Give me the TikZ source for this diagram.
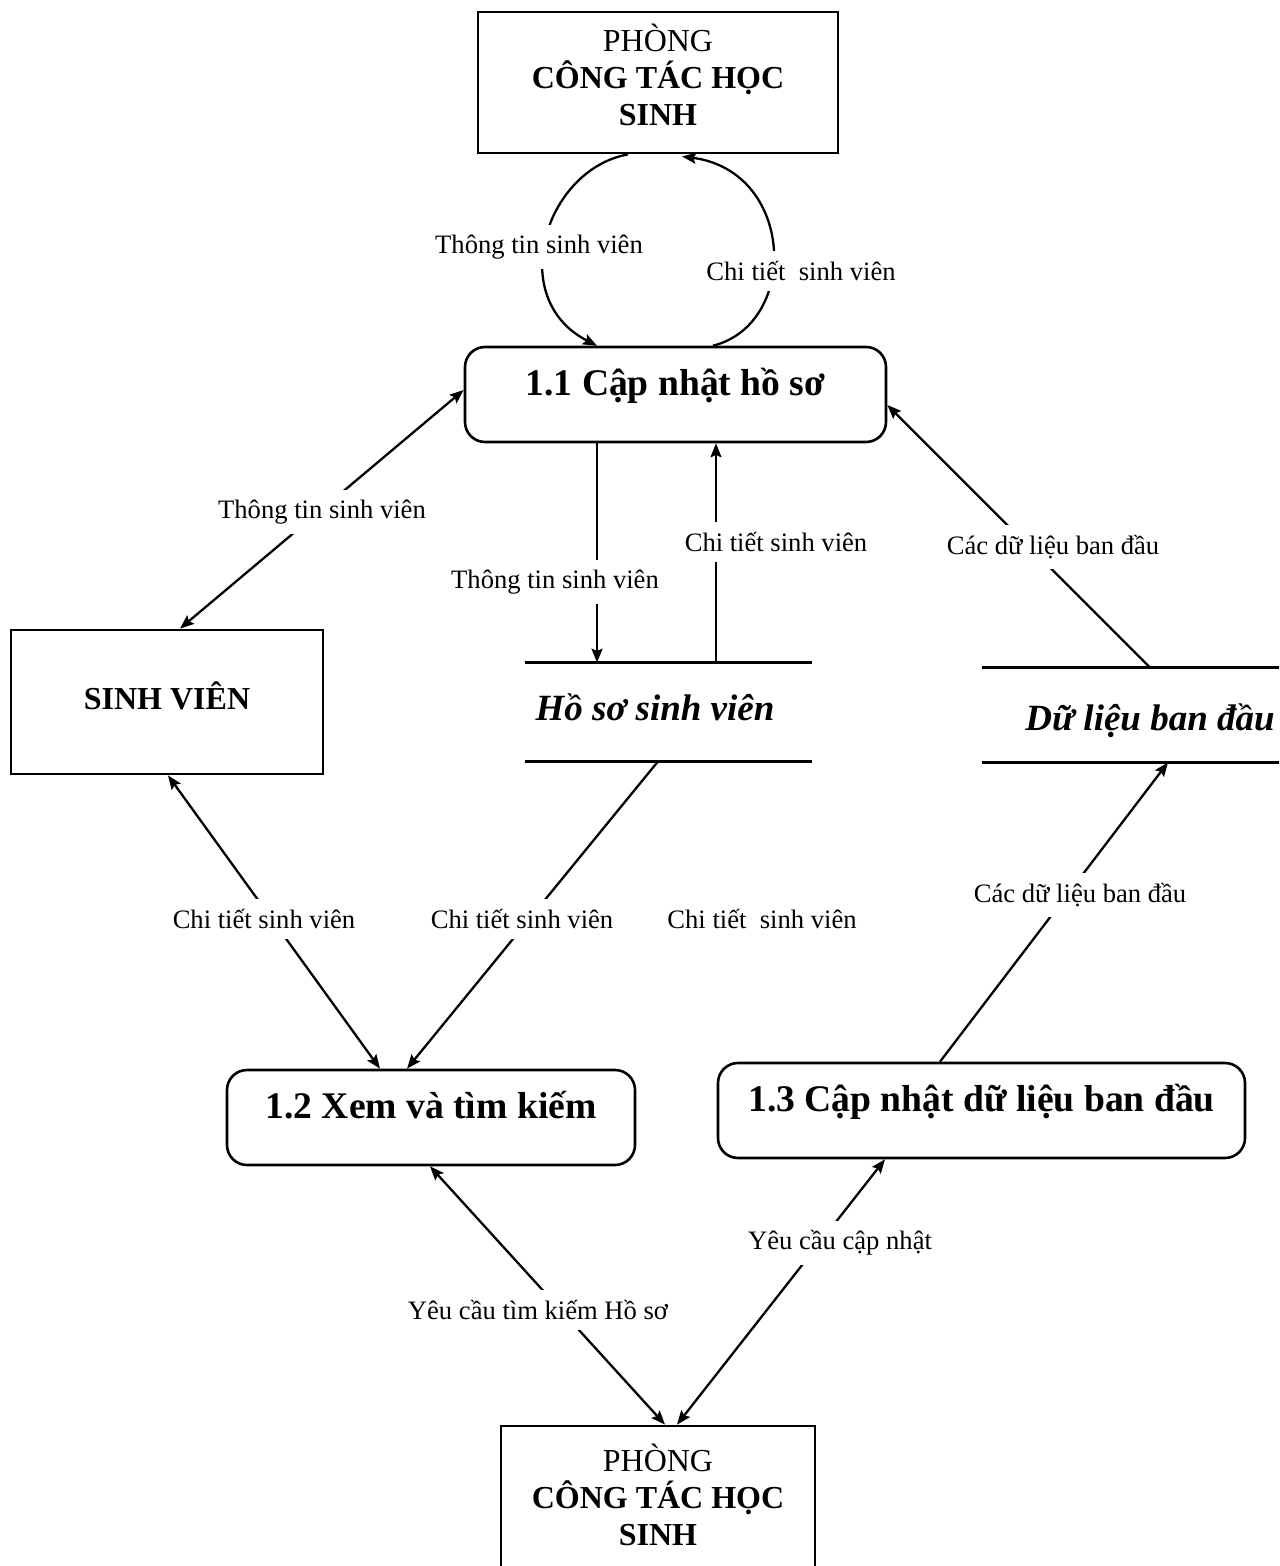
\documentclass[tikz,border=0pt]{standalone}
\usepackage{fontspec}
\setmainfont{Liberation Serif}
\usetikzlibrary{calc,arrows.meta}

\tikzset{
  ext/.style={draw, line width=1.4pt, rectangle, inner sep=0pt},
  exttext/.style={align=center, inner sep=0pt, font=\fontsize{16}{18.5}\selectfont},
  proc/.style={draw, line width=1.3pt, rounded corners=10pt, inner sep=0pt,
    minimum height=47.5pt, text height=8pt, text depth=7pt,
    font=\fontsize{18.8}{22}\selectfont\bfseries},
  store/.style={inner sep=0pt},
  storetext/.style={inner sep=0pt, font=\fontsize{18.5}{22}\selectfont\bfseries\itshape},
  storeline/.style={line width=1.3pt},
  tip/.tip={Stealth[length=7pt,width=5.5pt,inset=1.2pt]},
  flow/.style={line width=1.15pt, -tip},
  flowboth/.style={line width=1.15pt, tip-tip},
  flowtext/.style={fill=white, inner xsep=1pt, inner ysep=5pt,
    font=\fontsize{13.3}{15}\selectfont},
}

\begin{document}
\begin{tikzpicture}[x=0.5pt,y=-0.5pt]
\useasboundingbox (0,0) rectangle (1279,1566);
\fill[white] (0,0) rectangle (1279,1566);

% external entities
\node[ext, minimum width=180pt, minimum height=70.5pt,
  label={[exttext, yshift=4pt]center:{PHÒNG\\\textbf{CÔNG TÁC HỌC}\\\textbf{SINH}}}] (top) at (658,82.5) {};
\node[ext, minimum width=157pt, minimum height=75pt,
  label={[exttext, yshift=3pt]center:{PHÒNG\\\textbf{CÔNG TÁC HỌC}\\\textbf{SINH}}}] (bot) at (658,1501) {};
\node[ext, minimum width=156pt, minimum height=72pt, text height=11pt, text depth=4pt,
  font=\fontsize{16}{18}\selectfont\bfseries] (sv) at (167,702) {SINH VIÊN};

% processes
\node[proc, minimum width=210.5pt] (p11) at (675.5,394.5) {1.1 Cập nhật hồ sơ};
\node[proc, minimum width=204pt] (p12) at (431,1117.5) {1.2 Xem và tìm kiếm};
\node[proc, minimum width=263.5pt] (p13) at (981.5,1110.5) {1.3 Cập nhật dữ liệu ban đầu};

% data stores
\node[store, minimum width=143.5pt, minimum height=49pt,
  label={[storetext, xshift=-6.75pt, yshift=2.5pt]center:Hồ sơ sinh viên}] (hs) at (668.5,712) {};
\node[store, minimum width=148.5pt, minimum height=47pt,
  label={[storetext, xshift=9.75pt, yshift=-3pt]center:Dữ liệu ban đầu}] (dl) at (1130.5,715) {};
\draw[storeline] (hs.north west) -- (hs.north east) (hs.south west) -- (hs.south east);
\draw[storeline] (dl.north west) -- (dl.north east) (dl.south west) -- (dl.south east);

% loop between the office and process 1.1
\draw[flow] ($(top.south)+(-30,0)$) .. controls ($(top.south)+(-113,15)$) and ($(p11.north)+(-170.5,-47)$) .. ($(p11.north)+(-78.5,0)$);
\draw[flow] ($(p11.north)+(37.5,0)$) .. controls ($(p11.north)+(124.5,-22)$) and ($(top.south)+(137,17)$) .. ($(top.south)+(24,2)$);

% data flows
\draw[flowboth] ($(p11.west)+(0,-4.5)$) -- ($(sv.north)+(13,0)$);
\draw[flow] ($(p11.south)+(-78.5,0)$) -- ($(hs.north)+(-71.5,0)$);
\draw[flow] ($(hs.north)+(47.5,0)$) -- ($(p11.south)+(40.5,0)$);
\draw[flow] ($(dl.north)+(19.5,0)$) -- ($(p11.east)+(0,10.5)$);
\draw[flowboth] ($(sv.south)+(1,0)$) -- ($(p12.north)+(-51,0)$);
\draw[flow] ($(hs.south)+(-10.5,0)$) -- ($(p12.north)+(-24,0)$);
\draw[flow] ($(p13.north)+(-41.5,0)$) -- ($(dl.south)+(37.5,0)$);
\draw[flowboth] ($(p12.south)+(-1,0)$) -- ($(bot.north)+(7,0)$);
\draw[flowboth] ($(p13.south)+(-96.5,0)$) -- ($(bot.north)+(19,0)$);

% flow labels
\node[flowtext] (t1) at (539,247) {Thông tin sinh viên};
\node[flowtext] (t2) at (801,271) {Chi tiết~ sinh viên};
\node[flowtext] (t3) at (322,512) {Thông tin sinh viên};
\node[flowtext] (t4) at (555,582) {Thông tin sinh viên};
\node[flowtext] (t5) at (776,542) {Chi tiết sinh viên};
\node[flowtext] (t6) at (1053,547) {Các dữ liệu ban đầu};
\node[flowtext] (t7) at (264,919) {Chi tiết sinh viên};
\node[flowtext] (t8) at (522,919) {Chi tiết sinh viên};
\node[flowtext] (t9) at (762,919) {Chi tiết~ sinh viên};
\node[flowtext] (t10) at (1080,895) {Các dữ liệu ban đầu};
\node[flowtext] (t11) at (840,1243) {Yêu cầu cập nhật};
\node[flowtext] (t12) at (538,1310) {Yêu cầu tìm kiếm Hồ sơ};
\end{tikzpicture}
\end{document}
